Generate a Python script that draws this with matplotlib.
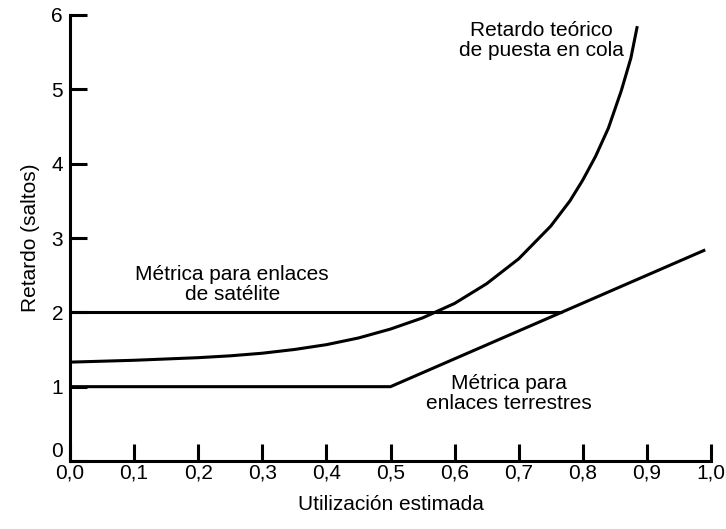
import matplotlib
matplotlib.use("Agg")
import matplotlib.pyplot as plt

plt.rcParams["font.family"] = ["Liberation Sans", "DejaVu Sans"]

# curva teorica de retardo en cola
util_teo = [0.0, 0.1, 0.2, 0.25, 0.3, 0.35, 0.4, 0.45, 0.5, 0.55, 0.6, 0.65, 0.7,
            0.75, 0.78, 0.8, 0.82, 0.84, 0.86, 0.875, 0.885]
ret_teo = [1.33, 1.355, 1.39, 1.415, 1.45, 1.50, 1.565, 1.655, 1.775, 1.925, 2.12,
           2.385, 2.72, 3.16, 3.50, 3.78, 4.10, 4.48, 4.98, 5.42, 5.85]

# metrica para enlaces de satelite
util_sat = [0.0, 0.767]
ret_sat = [2.0, 2.0]

# metrica para enlaces terrestres
util_ter = [0.0, 0.5, 0.991]
ret_ter = [1.0, 1.0, 2.84]

xticks = [i / 10 for i in range(11)]
xlabels = [("%.1f" % v).replace(".", ",") for v in xticks]
yticks = [0, 1, 2, 3, 4, 5, 6]

fig = plt.figure(figsize=(7.26, 5.29), dpi=100)
ax = fig.add_axes([70 / 726, 1 - 461 / 529, 641 / 726, 446 / 529])

lw = 2.2
ax.plot(util_teo, ret_teo, color="black", lw=lw, solid_capstyle="butt", solid_joinstyle="round")
ax.plot(util_sat, ret_sat, color="black", lw=lw, solid_capstyle="butt")
ax.plot(util_ter, ret_ter, color="black", lw=lw, solid_capstyle="butt")

ax.set_xlim(0, 1.0)
ax.set_ylim(0, 6)
ax.set_xticks(xticks)
ax.set_xticklabels(xlabels)
ax.set_yticks(yticks)

for s in ["top", "right"]:
    ax.spines[s].set_visible(False)
for s in ["left", "bottom"]:
    ax.spines[s].set_linewidth(2.2)

fs = 15
ax.tick_params(direction="in", length=12, width=2.2, labelsize=fs, pad=2)
ax.tick_params(axis="y", pad=5)
ax.get_yticklabels()[0].set_va("bottom")

ax.set_xlabel("Utilización estimada", fontsize=fs, labelpad=9)
ax.set_ylabel("Retardo (saltos)", fontsize=fs, labelpad=8)

ax.text(0.735, 5.66, "Retardo teórico\nde puesta en cola", ha="center", va="center",
        fontsize=fs, linespacing=1.05)
ax.text(0.253, 2.37, "Métrica para enlaces\nde satélite", ha="center", va="center",
        fontsize=fs, linespacing=1.05)
ax.text(0.684, 0.91, "Métrica para\nenlaces terrestres", ha="center", va="center",
        fontsize=fs, linespacing=1.05)

fig.savefig("out.png", dpi=100)
